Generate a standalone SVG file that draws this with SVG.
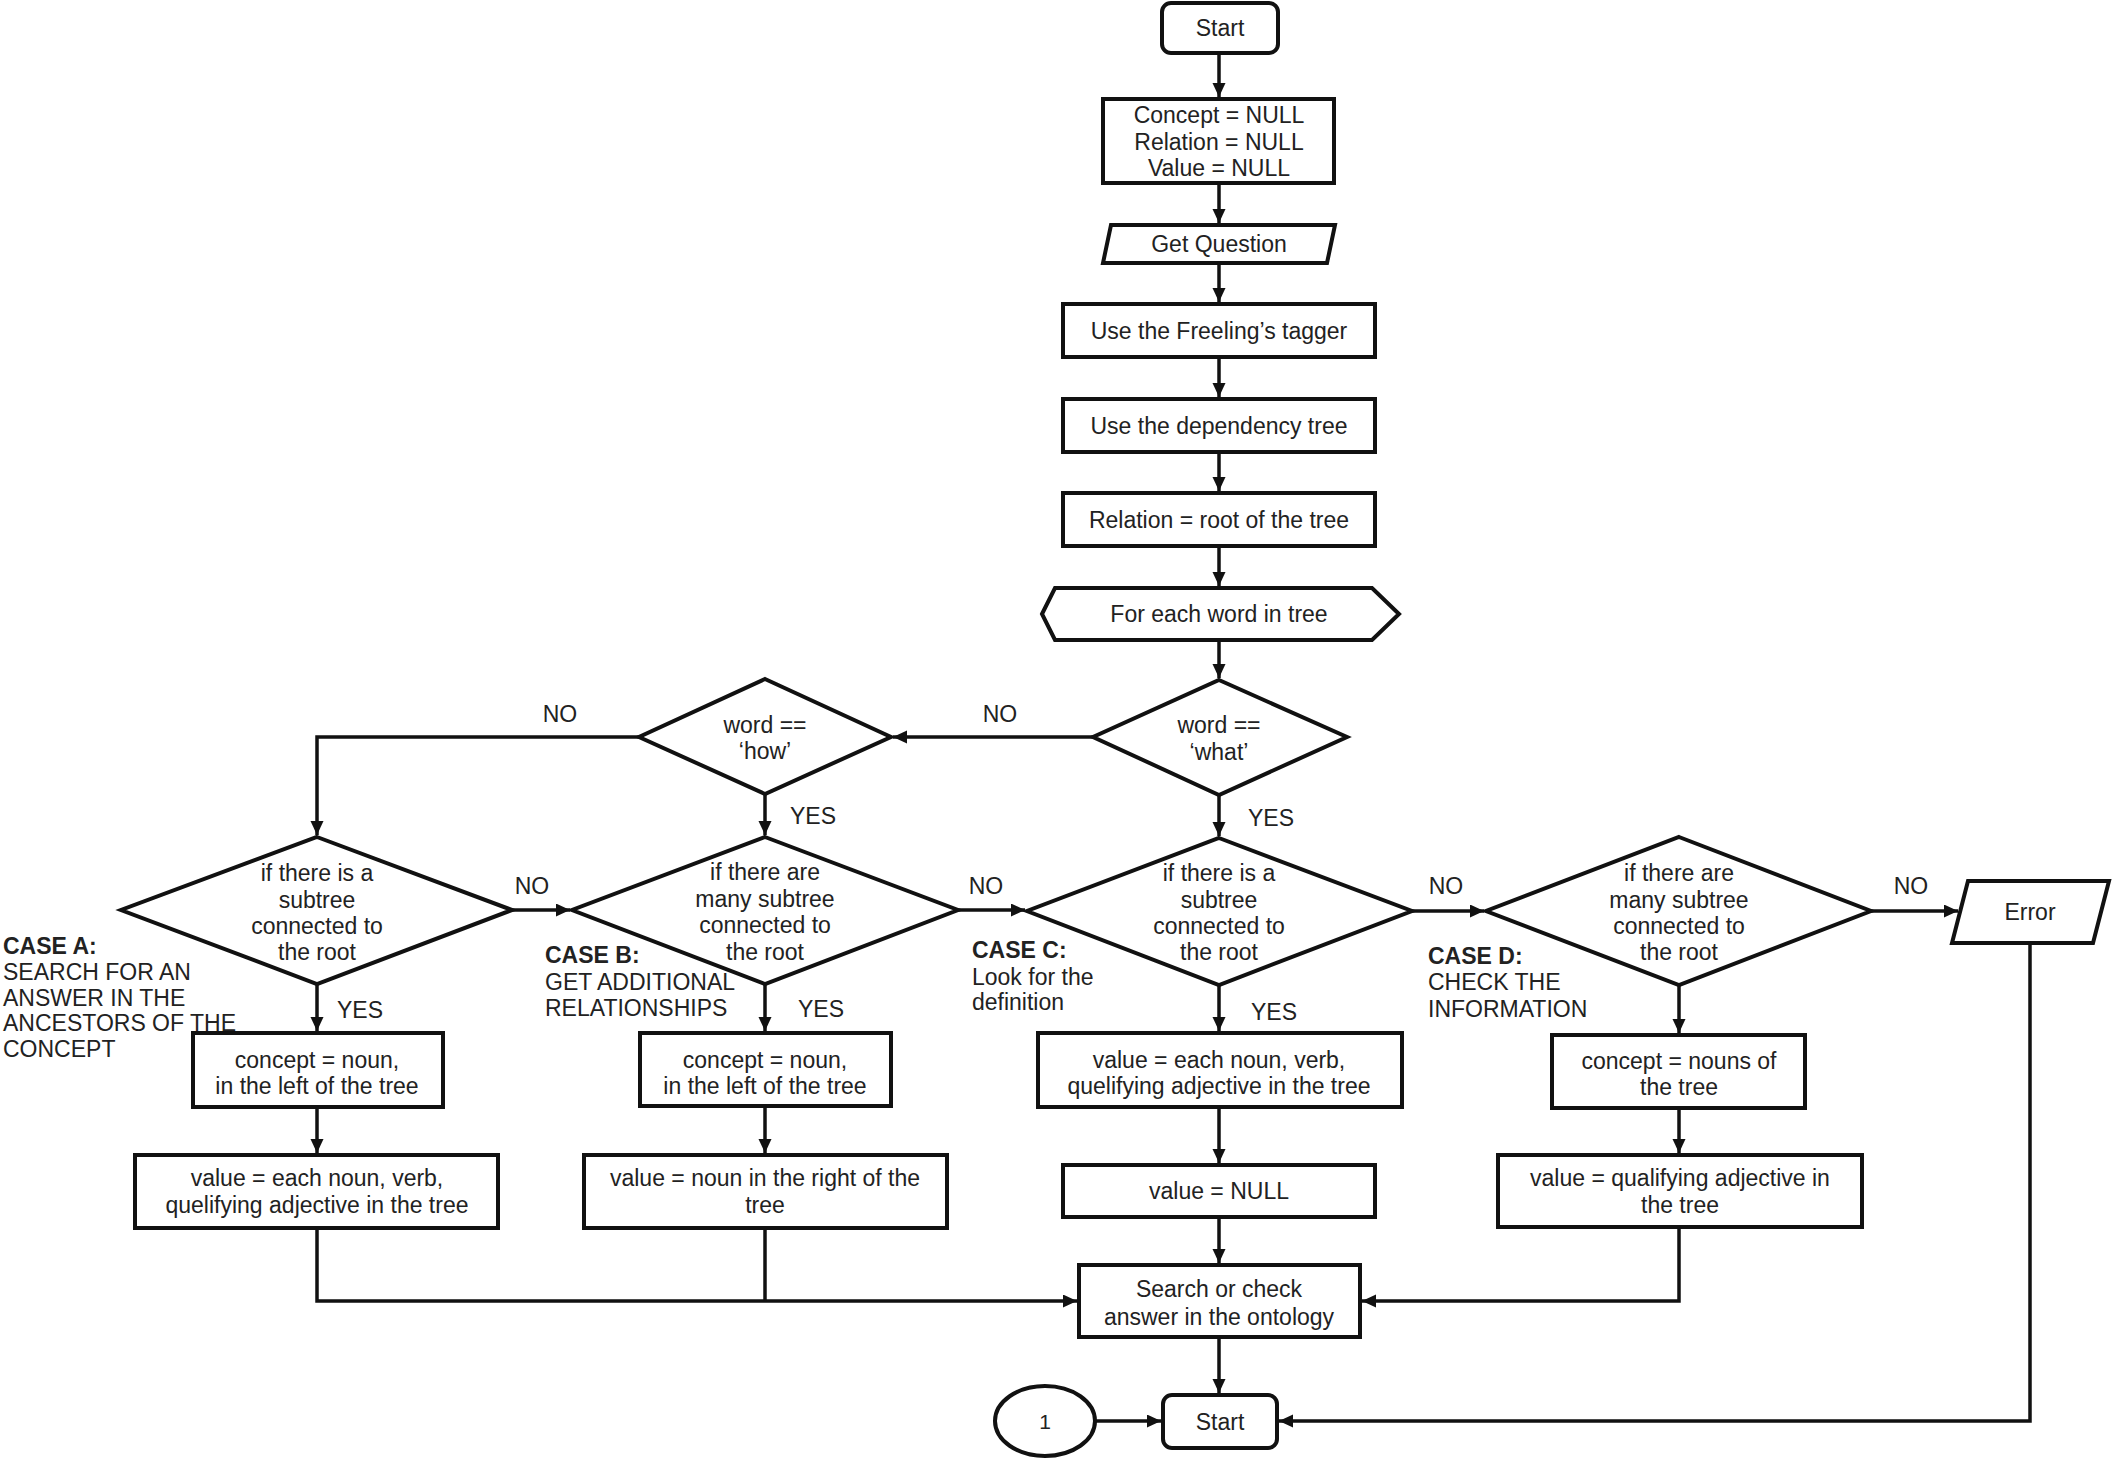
<svg xmlns="http://www.w3.org/2000/svg" width="2112" height="1460" viewBox="0 0 2112 1460">
<defs>
<style>
.s{fill:#fff;stroke:#111;stroke-width:4}
.c{fill:none;stroke:#111;stroke-width:3.5}
text{font-family:"Liberation Sans",Arial,sans-serif;font-size:23px;fill:#222}
.m{text-anchor:middle}
.b{font-weight:bold}
</style>
<marker id="ah" markerUnits="userSpaceOnUse" markerWidth="16" markerHeight="14" refX="14" refY="6.5" orient="auto"><path d="M0,0 L14,6.5 L0,13 z" fill="#111"/></marker>
</defs>
<rect width="2112" height="1460" fill="#fff"/>
<g id="connectors">
<path class="c" d="M1219,53 V97" marker-end="url(#ah)"/>
<path class="c" d="M1219,183 V223" marker-end="url(#ah)"/>
<path class="c" d="M1219,263 V302" marker-end="url(#ah)"/>
<path class="c" d="M1219,357 V397" marker-end="url(#ah)"/>
<path class="c" d="M1219,452 V491" marker-end="url(#ah)"/>
<path class="c" d="M1219,546 V586" marker-end="url(#ah)"/>
<path class="c" d="M1219,640 V678" marker-end="url(#ah)"/>
<path class="c" d="M1093,737 H893" marker-end="url(#ah)"/>
<path class="c" d="M639,737 H317 V835" marker-end="url(#ah)"/>
<path class="c" d="M765,794 V835" marker-end="url(#ah)"/>
<path class="c" d="M1219,795 V836" marker-end="url(#ah)"/>
<path class="c" d="M512,910 H570" marker-end="url(#ah)"/>
<path class="c" d="M958,910 H1025" marker-end="url(#ah)"/>
<path class="c" d="M1412,911 H1484" marker-end="url(#ah)"/>
<path class="c" d="M1871,911 H1958" marker-end="url(#ah)"/>
<path class="c" d="M317,984 V1031" marker-end="url(#ah)"/>
<path class="c" d="M765,984 V1031" marker-end="url(#ah)"/>
<path class="c" d="M1219,985 V1031" marker-end="url(#ah)"/>
<path class="c" d="M1679,985 V1033" marker-end="url(#ah)"/>
<path class="c" d="M317,1107 V1153" marker-end="url(#ah)"/>
<path class="c" d="M765,1106 V1153" marker-end="url(#ah)"/>
<path class="c" d="M1219,1107 V1163" marker-end="url(#ah)"/>
<path class="c" d="M1679,1108 V1153" marker-end="url(#ah)"/>
<path class="c" d="M1219,1217 V1263" marker-end="url(#ah)"/>
<path class="c" d="M317,1228 V1301 H1077" marker-end="url(#ah)"/>
<path class="c" d="M765,1228 V1301"/>
<path class="c" d="M1679,1227 V1301 H1362" marker-end="url(#ah)"/>
<path class="c" d="M1219,1337 V1393" marker-end="url(#ah)"/>
<path class="c" d="M1096,1421 H1161" marker-end="url(#ah)"/>
<path class="c" d="M2030,943 V1421 H1279" marker-end="url(#ah)"/>
</g>
<g id="labels">
<text class="m" x="1000" y="722">NO</text>
<text class="m" x="560" y="722">NO</text>
<text class="m" x="532" y="894">NO</text>
<text class="m" x="986" y="894">NO</text>
<text class="m" x="1446" y="894">NO</text>
<text class="m" x="1911" y="894">NO</text>
<text x="790" y="824">YES</text>
<text x="1248" y="826">YES</text>
<text x="337" y="1018">YES</text>
<text x="798" y="1017">YES</text>
<text x="1251" y="1020">YES</text>
</g>
<g id="caseA">
<text x="3" y="954" class="b">CASE A:</text>
<text x="3" y="980">SEARCH FOR AN</text>
<text x="3" y="1006">ANSWER IN THE</text>
<text x="3" y="1031">ANCESTORS OF THE</text>
<text x="3" y="1057">CONCEPT</text>
</g>
<g id="caseB">
<text x="545" y="963" class="b">CASE B:</text>
<text x="545" y="990">GET ADDITIONAL</text>
<text x="545" y="1016">RELATIONSHIPS</text>
</g>
<g id="caseC">
<text x="972" y="958" class="b">CASE C:</text>
<text x="972" y="985">Look for the</text>
<text x="972" y="1010">definition</text>
</g>
<g id="caseD">
<text x="1428" y="964" class="b">CASE D:</text>
<text x="1428" y="990">CHECK THE</text>
<text x="1428" y="1017">INFORMATION</text>
</g>
<g id="start">
<rect class="s" x="1162" y="3" width="116" height="50" rx="9"/>
<text class="m" x="1220" y="36">Start</text>
</g>
<g id="init">
<rect class="s" x="1103" y="99" width="231" height="84"/>
<text class="m" x="1219" y="123">Concept = NULL</text>
<text class="m" x="1219" y="150">Relation = NULL</text>
<text class="m" x="1219" y="176">Value = NULL</text>
</g>
<g id="getQuestion">
<polygon class="s" points="1111,225 1335,225 1327,263 1103,263"/>
<text class="m" x="1219" y="252">Get Question</text>
</g>
<g id="freeling">
<rect class="s" x="1063" y="304" width="312" height="53"/>
<text class="m" x="1219" y="339">Use the Freeling’s tagger</text>
</g>
<g id="dependency">
<rect class="s" x="1063" y="399" width="312" height="53"/>
<text class="m" x="1219" y="434">Use the dependency tree</text>
</g>
<g id="relation">
<rect class="s" x="1063" y="493" width="312" height="53"/>
<text class="m" x="1219" y="528">Relation = root of the tree</text>
</g>
<g id="forEach">
<polygon class="s" points="1042,614 1055,588 1372,588 1399,614 1372,640 1055,640"/>
<text class="m" x="1219" y="622">For each word in tree</text>
</g>
<g id="what">
<polygon class="s" points="1219,680 1347,737 1219,795 1093,737"/>
<text class="m" x="1219" y="733">word ==</text>
<text class="m" x="1219" y="760">‘what’</text>
</g>
<g id="how">
<polygon class="s" points="765,679 891,737 765,794 639,737"/>
<text class="m" x="765" y="733">word ==</text>
<text class="m" x="765" y="759">‘how’</text>
</g>
<g id="diamondA">
<polygon class="s" points="317,837 512,910 317,984 121,910"/>
<text class="m" x="317" y="881">if there is a</text>
<text class="m" x="317" y="908">subtree</text>
<text class="m" x="317" y="934">connected to</text>
<text class="m" x="317" y="960">the root</text>
</g>
<g id="diamondB">
<polygon class="s" points="765,837 958,910 765,984 572,910"/>
<text class="m" x="765" y="880">if there are</text>
<text class="m" x="765" y="907">many subtree</text>
<text class="m" x="765" y="933">connected to</text>
<text class="m" x="765" y="960">the root</text>
</g>
<g id="diamondC">
<polygon class="s" points="1219,838 1412,911 1219,985 1027,911"/>
<text class="m" x="1219" y="881">if there is a</text>
<text class="m" x="1219" y="908">subtree</text>
<text class="m" x="1219" y="934">connected to</text>
<text class="m" x="1219" y="960">the root</text>
</g>
<g id="diamondD">
<polygon class="s" points="1679,837 1871,911 1679,985 1486,911"/>
<text class="m" x="1679" y="881">if there are</text>
<text class="m" x="1679" y="908">many subtree</text>
<text class="m" x="1679" y="934">connected to</text>
<text class="m" x="1679" y="960">the root</text>
</g>
<g id="error">
<polygon class="s" points="1968,881 2109,881 2093,943 1952,943"/>
<text class="m" x="2030" y="920">Error</text>
</g>
<g id="conceptA">
<rect class="s" x="193" y="1033" width="250" height="74"/>
<text class="m" x="317" y="1068">concept = noun,</text>
<text class="m" x="317" y="1094">in the left of the tree</text>
</g>
<g id="valueA">
<rect class="s" x="135" y="1155" width="363" height="73"/>
<text class="m" x="317" y="1186">value = each noun, verb,</text>
<text class="m" x="317" y="1213">quelifying adjective in the tree</text>
</g>
<g id="conceptB">
<rect class="s" x="640" y="1033" width="251" height="73"/>
<text class="m" x="765" y="1068">concept = noun,</text>
<text class="m" x="765" y="1094">in the left of the tree</text>
</g>
<g id="valueB">
<rect class="s" x="584" y="1155" width="363" height="73"/>
<text class="m" x="765" y="1186">value = noun in the right of the</text>
<text class="m" x="765" y="1213">tree</text>
</g>
<g id="valueC">
<rect class="s" x="1038" y="1033" width="364" height="74"/>
<text class="m" x="1219" y="1068">value = each noun, verb,</text>
<text class="m" x="1219" y="1094">quelifying adjective in the tree</text>
</g>
<g id="valueNull">
<rect class="s" x="1063" y="1165" width="312" height="52"/>
<text class="m" x="1219" y="1199">value = NULL</text>
</g>
<g id="conceptD">
<rect class="s" x="1552" y="1035" width="253" height="73"/>
<text class="m" x="1679" y="1069">concept = nouns of</text>
<text class="m" x="1679" y="1095">the tree</text>
</g>
<g id="valueD">
<rect class="s" x="1498" y="1155" width="364" height="72"/>
<text class="m" x="1680" y="1186">value = qualifying adjective in</text>
<text class="m" x="1680" y="1213">the tree</text>
</g>
<g id="search">
<rect class="s" x="1079" y="1265" width="281" height="72"/>
<text class="m" x="1219" y="1297">Search or check</text>
<text class="m" x="1219" y="1325">answer in the ontology</text>
</g>
<g id="connector1">
<ellipse class="s" cx="1045" cy="1421" rx="50" ry="35"/>
<text class="m" x="1045" y="1429" style="font-size:21px">1</text>
</g>
<g id="end">
<rect class="s" x="1163" y="1395" width="114" height="53" rx="9"/>
<text class="m" x="1220" y="1430">Start</text>
</g>
</svg>
